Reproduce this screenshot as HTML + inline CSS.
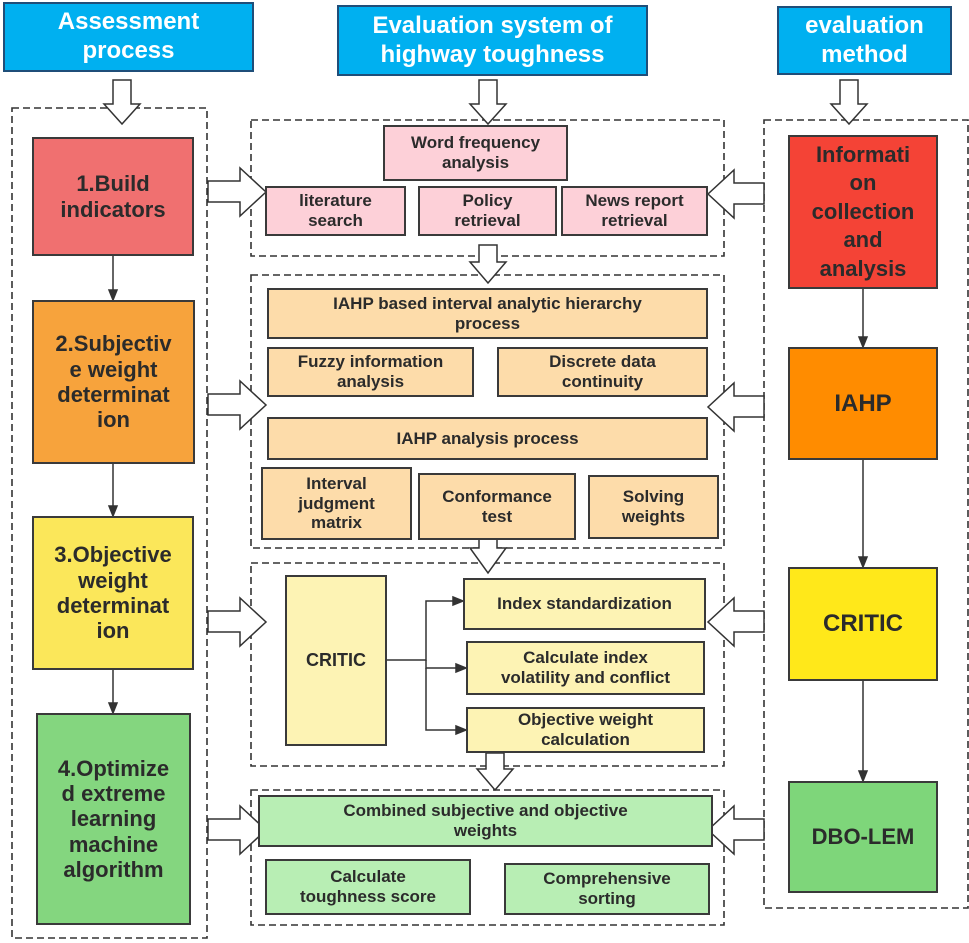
<!DOCTYPE html>
<html><head><meta charset="utf-8"><style>
body{margin:0;background:#fff;}
#c{position:relative;width:969px;height:943px;overflow:hidden;font-family:"Liberation Sans",sans-serif;font-weight:bold;color:#2b2b2b;}
.b{position:absolute;box-sizing:border-box;border:2px solid #3a3a3a;display:flex;align-items:center;justify-content:center;text-align:center;line-height:1.15;}
.h{background:#00b0f0;color:#fff;font-size:24px;border-color:#1f4e79;line-height:1.2;}
svg{position:absolute;left:0;top:0;}
</style></head><body><div id="c">
<svg width="969" height="943">
<g fill="none" stroke="#333" stroke-width="1.6" stroke-dasharray="7,4">
<rect x="12" y="108" width="195" height="830"/>
<rect x="251" y="120" width="473" height="136"/>
<rect x="251" y="275" width="473" height="273"/>
<rect x="251" y="563" width="473" height="203"/>
<rect x="251" y="790" width="473" height="135"/>
<rect x="764" y="120" width="204" height="788"/>
</g>
<g fill="#fff" stroke="#333" stroke-width="1.5">
<polygon points="113,80 131,80 131,104 140,104 122,124 104,104 113,104"/>
<polygon points="479,80 497,80 497,104 506,104 488,124 470,104 479,104"/>
<polygon points="840,80 858,80 858,104 867,104 849,124 831,104 840,104"/>
<polygon points="479,245 497,245 497,262 506,262 488,283 470,262 479,262"/>
<polygon points="479,530 497,530 497,548 506,548 488,573 470,548 479,548"/>
<polygon points="486,753 504,753 504,769 513,769 495,790 477,769 486,769"/>
<g>
<polygon points="208,181 240,181 240,168 266,192 240,216 240,202 208,202"/>
<polygon points="208,394 240,394 240,381 266,405 240,429 240,415 208,415"/>
<polygon points="208,611 240,611 240,598 266,622 240,646 240,632 208,632"/>
<polygon points="208,819 240,819 240,806 266,830 240,854 240,840 208,840"/>
<polygon points="764,183 734,183 734,170 708,194 734,218 734,204 764,204"/>
<polygon points="764,396 734,396 734,383 708,407 734,431 734,417 764,417"/>
<polygon points="764,611 734,611 734,598 708,622 734,646 734,632 764,632"/>
<polygon points="764,819 734,819 734,806 708,830 734,854 734,840 764,840"/>
</g>
</g>
<g stroke="#333" stroke-width="1.5" fill="#333">
<line x1="113" y1="256" x2="113" y2="292"/><polygon points="109,290 117,290 113,300"/>
<line x1="113" y1="463" x2="113" y2="508"/><polygon points="109,506 117,506 113,516"/>
<line x1="113" y1="670" x2="113" y2="705"/><polygon points="109,703 117,703 113,713"/>
<line x1="863" y1="289" x2="863" y2="339"/><polygon points="859,337 867,337 863,347"/>
<line x1="863" y1="460" x2="863" y2="559"/><polygon points="859,557 867,557 863,567"/>
<line x1="863" y1="681" x2="863" y2="773"/><polygon points="859,771 867,771 863,781"/>
<polyline fill="none" points="387,660 426,660 426,601 455,601"/><polygon points="453,597 463,601 453,605"/>
<polyline fill="none" points="426,660 426,668 456,668"/><polygon points="456,664 466,668 456,672"/>
<polyline fill="none" points="426,668 426,730 456,730"/><polygon points="456,726 466,730 456,734"/>
</g>
</svg>
<div class="b h" style="left:3px;top:2px;width:251px;height:70px;">Assessment<br>process</div>
<div class="b h" style="left:337px;top:5px;width:311px;height:71px;">Evaluation system of<br>highway toughness</div>
<div class="b h" style="left:777px;top:6px;width:175px;height:69px;">evaluation<br>method</div>

<div class="b" style="left:32px;top:137px;width:162px;height:119px;background:#f07070;font-size:22px;">1.Build<br>indicators</div>
<div class="b" style="left:32px;top:300px;width:163px;height:164px;background:#f7a33c;font-size:22px;">2.Subjectiv<br>e weight<br>determinat<br>ion</div>
<div class="b" style="left:32px;top:516px;width:162px;height:154px;background:#fbe75a;font-size:22px;">3.Objective<br>weight<br>determinat<br>ion</div>
<div class="b" style="left:36px;top:713px;width:155px;height:212px;background:#84d67f;font-size:22px;">4.Optimize<br>d extreme<br>learning<br>machine<br>algorithm</div>

<div class="b" style="left:788px;top:135px;width:150px;height:154px;background:#f44336;font-size:22px;line-height:1.3;">Informati<br>on<br>collection<br>and<br>analysis</div>
<div class="b" style="left:788px;top:347px;width:150px;height:113px;background:#ff8c00;font-size:24px;">IAHP</div>
<div class="b" style="left:788px;top:567px;width:150px;height:114px;background:#ffe81a;font-size:24px;">CRITIC</div>
<div class="b" style="left:788px;top:781px;width:150px;height:112px;background:#7ed67a;font-size:22px;">DBO-LEM</div>

<div class="b" style="left:383px;top:125px;width:185px;height:56px;background:#fdd0d8;font-size:17px;">Word frequency<br>analysis</div>
<div class="b" style="left:265px;top:186px;width:141px;height:50px;background:#fdd0d8;font-size:17px;">literature<br>search</div>
<div class="b" style="left:418px;top:186px;width:139px;height:50px;background:#fdd0d8;font-size:17px;">Policy<br>retrieval</div>
<div class="b" style="left:561px;top:186px;width:147px;height:50px;background:#fdd0d8;font-size:17px;">News report<br>retrieval</div>

<div class="b" style="left:267px;top:288px;width:441px;height:51px;background:#fddcaa;font-size:17px;">IAHP based interval analytic hierarchy<br>process</div>
<div class="b" style="left:267px;top:347px;width:207px;height:50px;background:#fddcaa;font-size:17px;">Fuzzy information<br>analysis</div>
<div class="b" style="left:497px;top:347px;width:211px;height:50px;background:#fddcaa;font-size:17px;">Discrete data<br>continuity</div>
<div class="b" style="left:267px;top:417px;width:441px;height:43px;background:#fddcaa;font-size:17px;">IAHP analysis process</div>
<div class="b" style="left:261px;top:467px;width:151px;height:73px;background:#fddcaa;font-size:17px;">Interval<br>judgment<br>matrix</div>
<div class="b" style="left:418px;top:473px;width:158px;height:67px;background:#fddcaa;font-size:17px;">Conformance<br>test</div>
<div class="b" style="left:588px;top:475px;width:131px;height:64px;background:#fddcaa;font-size:17px;">Solving<br>weights</div>

<div class="b" style="left:285px;top:575px;width:102px;height:171px;background:#fdf3b4;font-size:18px;">CRITIC</div>
<div class="b" style="left:463px;top:578px;width:243px;height:52px;background:#fdf3b4;font-size:17px;">Index standardization</div>
<div class="b" style="left:466px;top:641px;width:239px;height:54px;background:#fdf3b4;font-size:17px;">Calculate index<br>volatility and conflict</div>
<div class="b" style="left:466px;top:707px;width:239px;height:46px;background:#fdf3b4;font-size:17px;">Objective weight<br>calculation</div>

<div class="b" style="left:258px;top:795px;width:455px;height:52px;background:#b8eeb4;font-size:17px;">Combined subjective and objective<br>weights</div>
<div class="b" style="left:265px;top:859px;width:206px;height:56px;background:#b8eeb4;font-size:17px;">Calculate<br>toughness score</div>
<div class="b" style="left:504px;top:863px;width:206px;height:52px;background:#b8eeb4;font-size:17px;">Comprehensive<br>sorting</div>
</div></body></html>
